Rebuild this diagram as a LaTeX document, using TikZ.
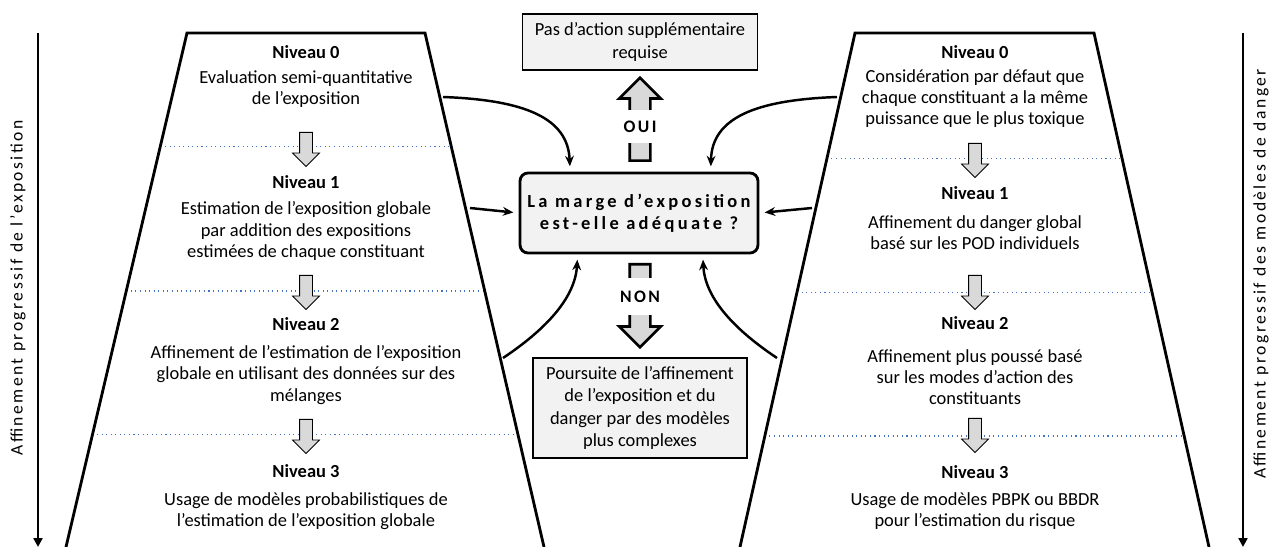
\documentclass[tikz,border=0pt]{standalone}
\usepackage{fontspec}
\setmainfont{Carlito}
\newfontfamily\spacedfont[LetterSpace=14]{Carlito}
\newfontfamily\widefont[LetterSpace=18]{Carlito}
\usetikzlibrary{shapes.arrows,arrows.meta,calc}
\definecolor{dotblue}{RGB}{68,114,196}
\definecolor{boxgray}{RGB}{242,242,242}
\definecolor{arrowgray}{RGB}{217,217,217}

\begin{document}
\begin{tikzpicture}[x=0.02cm, y=-0.02cm,
  body/.style={font=\fontsize{10.5}{12}\selectfont, align=center, inner sep=0pt},
  title/.style={font=\fontsize{10.5}{12}\selectfont\bfseries, inner sep=0pt},
  level/.style={dotted, dotblue, line width=0.6pt},
  down/.style={single arrow, draw, fill=arrowgray, rotate=-90, anchor=tail, minimum height=0.68cm, inner xsep=0pt, inner ysep=0.12cm, single arrow head extend=0.14cm, line width=0.5pt},
  bigarrow/.style={single arrow, draw, fill=arrowgray, anchor=tail, line width=1.5pt, minimum height=1.66cm, inner xsep=0pt, inner ysep=0.18cm, single arrow head extend=0.21cm},
  answer/.style={fill=white, font=\spacedfont\fontsize{10}{12}\selectfont\bfseries, inner xsep=3pt, inner ysep=0pt},
  infobox/.style={draw, fill=boxgray, line width=0.8pt, align=center, inner sep=0pt, font=\fontsize{10.5}{12.6}\selectfont},
  link/.style={-{Stealth[length=6pt,width=5pt]}, line width=1.4pt, shorten >=3pt},
  axis/.style={line width=1.6pt, -{Triangle[length=5pt,width=5pt]}},
  axislabel/.style={rotate=90, font=\spacedfont\fontsize{10}{12}\selectfont, inner sep=0pt},
  funnel/.style={line width=1.6pt}]
\useasboundingbox (0,0) rectangle (1269,547);

% Left funnel: exposure
\coordinate (expTL) at (187,33);
\coordinate (expTR) at (425,33);
\coordinate (expBL) at (66,547);
\coordinate (expBR) at (544,547);
\draw[level] ($(expTL)!0.22!(expBL)$) -- ($(expTR)!0.22!(expBR)$);
\draw[level] ($(expTL)!0.502!(expBL)$) -- ($(expTR)!0.502!(expBR)$);
\draw[level] ($(expTL)!0.782!(expBL)$) -- ($(expTR)!0.782!(expBR)$);
\draw[funnel] (expBL) -- (expTL) -- (expTR) -- (expBR);

\node[title] (exp0) at (306,52) {Niveau 0};
\node[body] (exptxt0) at (306,89) {Evaluation semi-quantitative\\de l’exposition};
\node[down] (exparr1) at (306,132) {};
\node[title] (exp1) at (306,182) {Niveau 1};
\node[body] (exptxt1) at (306,231) {Estimation de l’exposition globale\\par addition des expositions\\estimées de chaque constituant};
\node[down] (exparr2) at (306,275) {};
\node[title] (exp2) at (306,324) {Niveau 2};
\node[body] (exptxt2) at (306,375) {Affinement de l’estimation de l’exposition\\globale en utilisant des données sur des\\mélanges};
\node[down] (exparr3) at (306,419) {};
\node[title] (exp3) at (306,471) {Niveau 3};
\node[body] (exptxt3) at (306,511) {Usage de modèles probabilistiques de\\l’estimation de l’exposition globale};

% Right funnel: hazard
\coordinate (hazTL) at (855,33);
\coordinate (hazTR) at (1094,33);
\coordinate (hazBL) at (740,547);
\coordinate (hazBR) at (1209,547);
\draw[level] ($(hazTL)!0.245!(hazBL)$) -- ($(hazTR)!0.245!(hazBR)$);
\draw[level] ($(hazTL)!0.504!(hazBL)$) -- ($(hazTR)!0.504!(hazBR)$);
\draw[level] ($(hazTL)!0.784!(hazBL)$) -- ($(hazTR)!0.784!(hazBR)$);
\draw[funnel] (hazBL) -- (hazTL) -- (hazTR) -- (hazBR);

\node[title] (haz0) at (975,52) {Niveau 0};
\node[body] (haztxt0) at (975,99) {Considération par défaut que\\chaque constituant a la même\\puissance que le plus toxique};
\node[down] (hazarr1) at (975,143) {};
\node[title] (haz1) at (975,193) {Niveau 1};
\node[body] (haztxt1) at (975,233) {Affinement du danger global\\basé sur les POD individuels};
\node[down] (hazarr2) at (975,275) {};
\node[title] (haz2) at (975,323) {Niveau 2};
\node[body] (haztxt2) at (975,377) {Affinement plus poussé basé\\sur les modes d’action des\\constituants};
\node[down] (hazarr3) at (975,418) {};
\node[title] (haz3) at (975,472) {Niveau 3};
\node[body] (haztxt3) at (975,511) {Usage de modèles PBPK ou BBDR\\pour l’estimation du risque};

% Decision in the middle
\node[infobox, line width=1.6pt, rounded corners=0.16cm, minimum width=4.76cm, minimum height=1.6cm,
  font=\widefont\fontsize{10.5}{12.5}\selectfont\bfseries] (marge) at (639,213)
  {La marge d’exposition\\est-elle adéquate ?};
\node[infobox, minimum width=4.7cm, minimum height=1.12cm] (stop) at (640,42)
  {Pas d’action supplémentaire\\requise};
\node[infobox, minimum width=4.28cm, minimum height=2cm] (refine) at (640,408)
  {Poursuite de l’affinement\\de l’exposition et du\\danger par des modèles\\plus complexes};

\node[bigarrow, rotate=90] (ouiarr) at (640,162) {};
\node[answer, minimum height=0.66cm] (oui) at (640,126.5) {OUI};
\node[bigarrow, rotate=-90] (nonarr) at (640,263) {};
\node[answer, minimum height=0.74cm] (non) at (640,296.5) {NON};

% Links from the funnels
\coordinate (expout0) at (443,97);
\coordinate (expout1) at (470,208);
\coordinate (expout2) at (503,358);
\coordinate (hazout0) at (837,97);
\coordinate (hazout1) at (812,208);
\coordinate (hazout2) at (777,358);
\draw[link] (expout0) .. controls (525,100) and (568,118) .. (marge.149);
\draw[link] (expout1) -- (marge.west);
\draw[link] (expout2) .. controls (542,332) and (575,300) .. (marge.214);
\draw[link] (hazout0) .. controls (755,100) and (712,118) .. (marge.30);
\draw[link] (hazout1) -- (marge.east);
\draw[link] (hazout2) .. controls (738,332) and (705,300) .. (marge.327);

% Side axes
\coordinate (axlTop) at (38,33);
\coordinate (axlEnd) at (38,547);
\coordinate (axrTop) at (1243,33);
\coordinate (axrEnd) at (1243,547);
\draw[axis] (axlTop) -- (axlEnd);
\draw[axis] (axrTop) -- (axrEnd);
\node[axislabel] (axlText) at (18,288) {Affinement progressif de l’exposition};
\node[axislabel] (axrText) at (1261,274) {Affinement progressif des modèles de danger};
\end{tikzpicture}
\end{document}
